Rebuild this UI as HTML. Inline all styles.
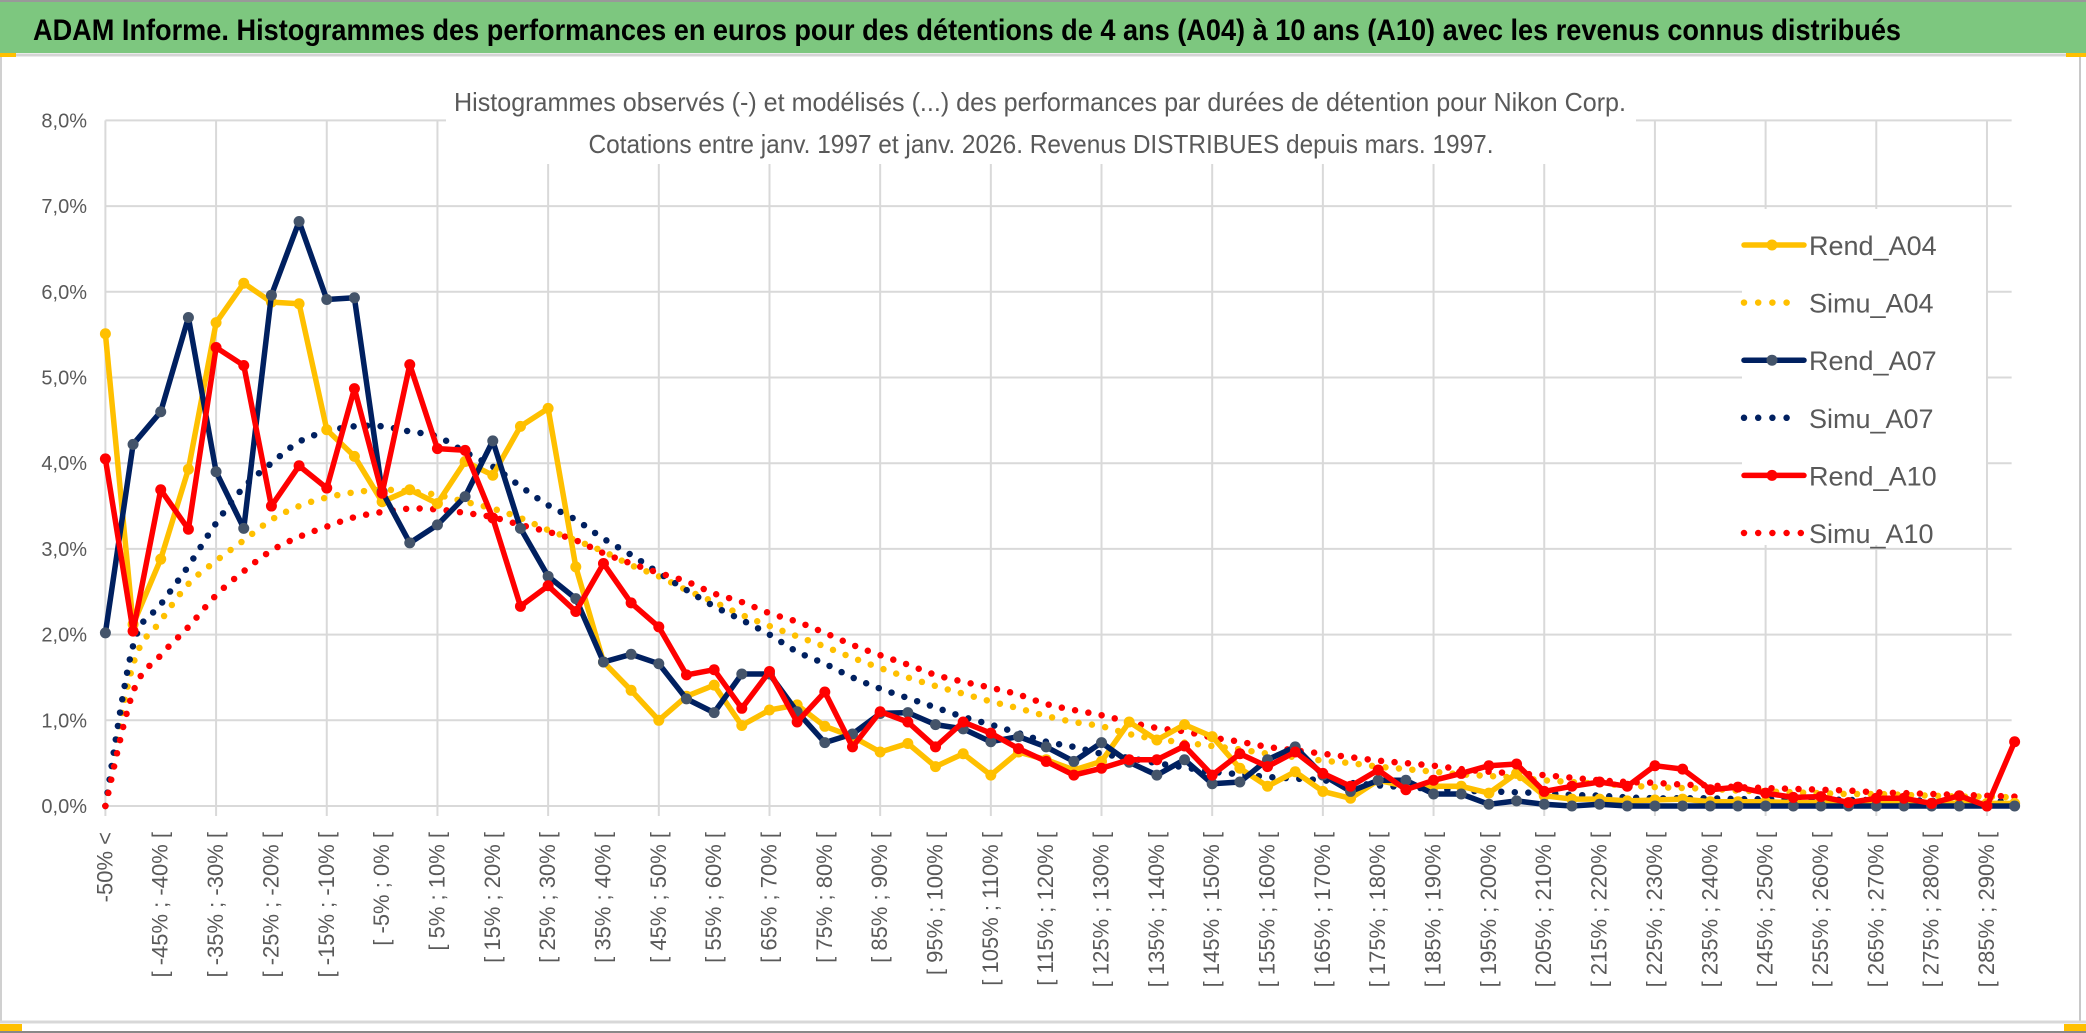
<!DOCTYPE html>
<html><head><meta charset="utf-8"><style>
html,body{margin:0;padding:0;background:#fff;}
svg{display:block;}
text{font-family:"Liberation Sans",sans-serif;}
</style></head><body>
<svg id="chart" width="2086" height="1033" viewBox="0 0 2086 1033" xmlns="http://www.w3.org/2000/svg">
<rect x="0" y="0" width="2086" height="1033" fill="#fff"/>
<rect x="0" y="2" width="2086" height="51" fill="#7dc77f"/>
<line x1="0" y1="1" x2="2086" y2="1" stroke="#999" stroke-width="2"/>
<line x1="0" y1="55" x2="2086" y2="55" stroke="#d4d4d4" stroke-width="3"/>
<rect x="0" y="53" width="16" height="4" fill="#ffc000"/>
<rect x="2066" y="53" width="20" height="4" fill="#ffc000"/>
<text x="33" y="40" font-size="30" font-weight="bold" fill="#000" textLength="1868" lengthAdjust="spacingAndGlyphs">ADAM Informe. Histogrammes des performances en euros pour des détentions de 4 ans (A04) à 10 ans (A10) avec les revenus connus distribués</text>
<line x1="1" y1="57" x2="1" y2="1022" stroke="#d0d0d0" stroke-width="2"/>
<line x1="2080" y1="57" x2="2080" y2="1022" stroke="#c8c8c8" stroke-width="2"/>
<line x1="0" y1="1022" x2="2086" y2="1022" stroke="#d8d8d8" stroke-width="3"/>
<rect x="0" y="1024" width="22" height="7" fill="#ffc000"/>
<rect x="2064" y="1024" width="22" height="7" fill="#ffc000"/>
<line x1="0" y1="1032" x2="2086" y2="1032" stroke="#888" stroke-width="2"/>
<g id="grid"></g>
<rect x="446" y="72" width="1190" height="92" fill="#fff"/>
<text x="1040" y="111" font-size="26" fill="#595959" text-anchor="middle" textLength="1172" lengthAdjust="spacingAndGlyphs">Histogrammes observés (-) et modélisés (...) des performances par durées de détention pour Nikon Corp.</text>
<text x="1041" y="153" font-size="26" fill="#595959" text-anchor="middle" textLength="905" lengthAdjust="spacingAndGlyphs">Cotations entre janv. 1997 et janv. 2026. Revenus DISTRIBUES depuis mars. 1997.</text>
<g id="yaxis"></g>
<g id="xaxis"></g>
<g id="series"></g>
<g id="legend"></g>
</svg>
<script>
const yTicks = [0,1,2,3,4,5,6,7,8];
const rendA04 = [5.51,2.12,2.88,3.93,5.64,6.10,5.88,5.86,4.39,4.08,3.55,3.69,3.53,4.02,3.86,4.43,4.64,2.79,1.68,1.35,1.00,1.28,1.41,0.94,1.12,1.18,0.93,0.81,0.63,0.73,0.46,0.61,0.36,0.63,0.54,0.42,0.52,0.98,0.77,0.95,0.81,0.44,0.23,0.40,0.17,0.09,0.30,0.23,0.23,0.23,0.15,0.38,0.12,0.08,0.08,0.06,0.07,0.08,0.05,0.05,0.05,0.04,0.04,0.04,0.04,0.03,0.03,0.03,0.03,0.03];
const simuA04 = [0,1.65,2.16,2.59,2.86,3.10,3.34,3.50,3.60,3.66,3.69,3.67,3.63,3.55,3.47,3.36,3.22,3.10,2.97,2.81,2.68,2.52,2.38,2.23,2.10,1.98,1.86,1.73,1.61,1.50,1.40,1.31,1.22,1.14,1.05,0.98,0.93,0.84,0.78,0.74,0.70,0.66,0.61,0.57,0.53,0.50,0.46,0.43,0.40,0.37,0.35,0.33,0.30,0.28,0.26,0.24,0.22,0.21,0.20,0.18,0.17,0.16,0.15,0.14,0.14,0.13,0.12,0.11,0.11,0.10];
const rendA07 = [2.02,4.22,4.60,5.70,3.90,3.24,5.96,6.82,5.91,5.93,3.67,3.07,3.28,3.61,4.26,3.24,2.68,2.42,1.68,1.77,1.66,1.25,1.09,1.54,1.54,1.10,0.74,0.84,1.08,1.09,0.95,0.90,0.75,0.81,0.69,0.52,0.74,0.51,0.36,0.54,0.26,0.28,0.54,0.69,0.36,0.17,0.30,0.30,0.14,0.14,0.02,0.06,0.02,0.00,0.02,0,0,0,0,0,0,0,0,0,0,0,0,0,0,0];
const simuA07 = [0,1.87,2.35,2.80,3.30,3.72,4.00,4.25,4.37,4.43,4.43,4.37,4.31,4.13,3.96,3.73,3.51,3.34,3.12,2.93,2.72,2.52,2.33,2.17,2.00,1.80,1.66,1.50,1.37,1.26,1.15,1.04,0.95,0.85,0.75,0.69,0.61,0.56,0.50,0.45,0.40,0.37,0.34,0.32,0.30,0.27,0.24,0.22,0.20,0.18,0.17,0.16,0.15,0.13,0.12,0.10,0.09,0.09,0.09,0.08,0.08,0.08,0.08,0.07,0.07,0.07,0.06,0.06,0.06,0.05];
const rendA10 = [4.05,2.04,3.69,3.23,5.35,5.14,3.50,3.97,3.71,4.87,3.65,5.15,4.17,4.15,3.36,2.33,2.57,2.27,2.83,2.37,2.09,1.53,1.59,1.14,1.57,0.98,1.33,0.69,1.10,0.98,0.69,0.98,0.85,0.67,0.52,0.36,0.44,0.54,0.54,0.70,0.36,0.61,0.46,0.63,0.38,0.23,0.42,0.19,0.30,0.38,0.47,0.49,0.17,0.23,0.28,0.23,0.47,0.43,0.19,0.22,0.15,0.10,0.11,0.04,0.09,0.09,0.03,0.12,0.00,0.75];
const simuA10 = [0,1.33,1.76,2.09,2.46,2.74,2.98,3.14,3.26,3.37,3.43,3.47,3.46,3.42,3.37,3.28,3.20,3.10,2.95,2.83,2.72,2.62,2.48,2.38,2.25,2.15,2.02,1.88,1.76,1.65,1.53,1.45,1.38,1.30,1.19,1.12,1.06,0.98,0.91,0.87,0.80,0.75,0.69,0.65,0.61,0.57,0.53,0.50,0.47,0.43,0.40,0.38,0.36,0.33,0.30,0.28,0.27,0.25,0.24,0.22,0.21,0.20,0.19,0.18,0.16,0.15,0.14,0.13,0.12,0.11];
const seriesNames = ["Rend_A04","Simu_A04","Rend_A07","Simu_A07","Rend_A10","Simu_A10"];
const categories = [];
for (let k = 0; k < 70; k++) {
  if (k === 0) categories.push("-50% <");
  else { const a = -50 + 5*(k-1); categories.push("[ " + a + "% ; " + (a+5) + "% ["); }
}

const NS = "http://www.w3.org/2000/svg";
const X0 = 105.4, DX = 27.67, Y0 = 806, DY = 85.7;
const xs = i => X0 + i*DX;
const ys = v => Y0 - v*DY;
function mk(tag, attrs, parent) {
  const e = document.createElementNS(NS, tag);
  for (const k in attrs) e.setAttribute(k, attrs[k]);
  parent.appendChild(e); return e;
}
const grid = document.getElementById('grid');
const last = categories.length - 1;
yTicks.forEach(t => {
  const l = mk('line', {x1: xs(0), x2: xs(last)-3, y1: ys(t), y2: ys(t), stroke: '#d9d9d9', 'stroke-width': 2}, grid);
  
  
});
for (let i = 0; i <= last; i += 4) {
  const l = mk('line', {x1: xs(i), x2: xs(i), y1: ys(8), y2: Y0 + 10, stroke: '#d9d9d9', 'stroke-width': 2}, grid);
  
  
}
const yaxis = document.getElementById('yaxis');
yTicks.forEach(t => {
  const tx = mk('text', {x: 87, y: ys(t) + 7, 'font-size': 20, fill: '#595959', 'text-anchor': 'end'}, yaxis);
  
  
  tx.textContent = t.toFixed(1).replace('.', ',') + '%';
});
const xaxis = document.getElementById('xaxis');
categories.forEach((c, i) => {
  if (i % 2) return;
  const x = xs(i) + 7, y = 832;
  const tx = mk('text', {x: x, y: y, 'font-size': 22, fill: '#595959', 'text-anchor': 'end', transform: 'rotate(-90 ' + x + ' ' + y + ')'}, xaxis);
  
  
  tx.textContent = c;
});
function smoothPath(vals) {
  const p = vals.map((v, i) => [xs(i), ys(v)]);
  let d = 'M' + p[0][0] + ' ' + p[0][1];
  for (let i = 0; i < p.length - 1; i++) {
    const p0 = p[Math.max(0, i-1)], p1 = p[i], p2 = p[i+1], p3 = p[Math.min(p.length-1, i+2)];
    const c1 = [p1[0] + (p2[0]-p0[0])/6, p1[1] + (p2[1]-p0[1])/6];
    const c2 = [p2[0] - (p3[0]-p1[0])/6, p2[1] - (p3[1]-p1[1])/6];
    d += ' C' + c1[0].toFixed(1) + ' ' + c1[1].toFixed(1) + ' ' + c2[0].toFixed(1) + ' ' + c2[1].toFixed(1) + ' ' + p2[0].toFixed(1) + ' ' + p2[1].toFixed(1);
  }
  return d;
}
const sg = document.getElementById('series');
function drawSimu(vals, color, name) {
  const p = mk('path', {d: smoothPath(vals), fill: 'none', stroke: color, 'stroke-width': 6.5, 'stroke-linecap': 'round', 'stroke-dasharray': '0 13.5'}, sg);
  
  
}
function drawRend(vals, color, mcolor, name) {
  const g = mk('g', {}, sg);
  
  
  mk('polyline', {points: vals.map((v, i) => xs(i).toFixed(1) + ',' + ys(v).toFixed(1)).join(' '), fill: 'none', stroke: color, 'stroke-width': 5.5, 'stroke-linejoin': 'round'}, g);
  vals.forEach((v, i) => {
    const c = mk('circle', {cx: xs(i), cy: ys(v), r: 5.5, fill: mcolor}, g);
    
    
  });
}
drawSimu(simuA04, '#ffc000', 'simu-a04-line');
drawSimu(simuA07, '#002060', 'simu-a07-line');
drawSimu(simuA10, '#ff0000', 'simu-a10-line');
drawRend(rendA04, '#ffc000', '#ffc000', 'rend-a04-line');
drawRend(rendA07, '#002060', '#44546a', 'rend-a07-line');
drawRend(rendA10, '#ff0000', '#ff0000', 'rend-a10-line');

const lg = document.getElementById('legend');
mk('rect', {x: 1742, y: 209, width: 244, height: 336, fill: '#fff'}, lg);
const styles = [['#ffc000','#ffc000',false],['#ffc000',null,true],['#002060','#44546a',false],['#002060',null,true],['#ff0000','#ff0000',false],['#ff0000',null,true]];
seriesNames.forEach((n, i) => {
  const y = 235 + i*57.6;
  const g = mk('g', {}, lg);
  
  
  const s = styles[i];
  if (s[2]) {
    const cnt = i === 5 ? 5 : 4;
    mk('line', {x1: 1744, x2: 1744 + (cnt-1)*14.2, y1: y + 10, y2: y + 10, stroke: s[0], 'stroke-width': 6.5, 'stroke-linecap': 'round', 'stroke-dasharray': '0 14.2'}, g);
  } else {
    mk('line', {x1: 1744, x2: 1804, y1: y + 10, y2: y + 10, stroke: s[0], 'stroke-width': 5.5, 'stroke-linecap': 'round'}, g);
    mk('circle', {cx: 1772, cy: y + 10, r: 5.5, fill: s[1]}, g);
  }
  const t = mk('text', {x: 1809, y: y + 20, 'font-size': 27, fill: '#595959'}, g);
  t.textContent = n;
});
</script>
</body></html>
